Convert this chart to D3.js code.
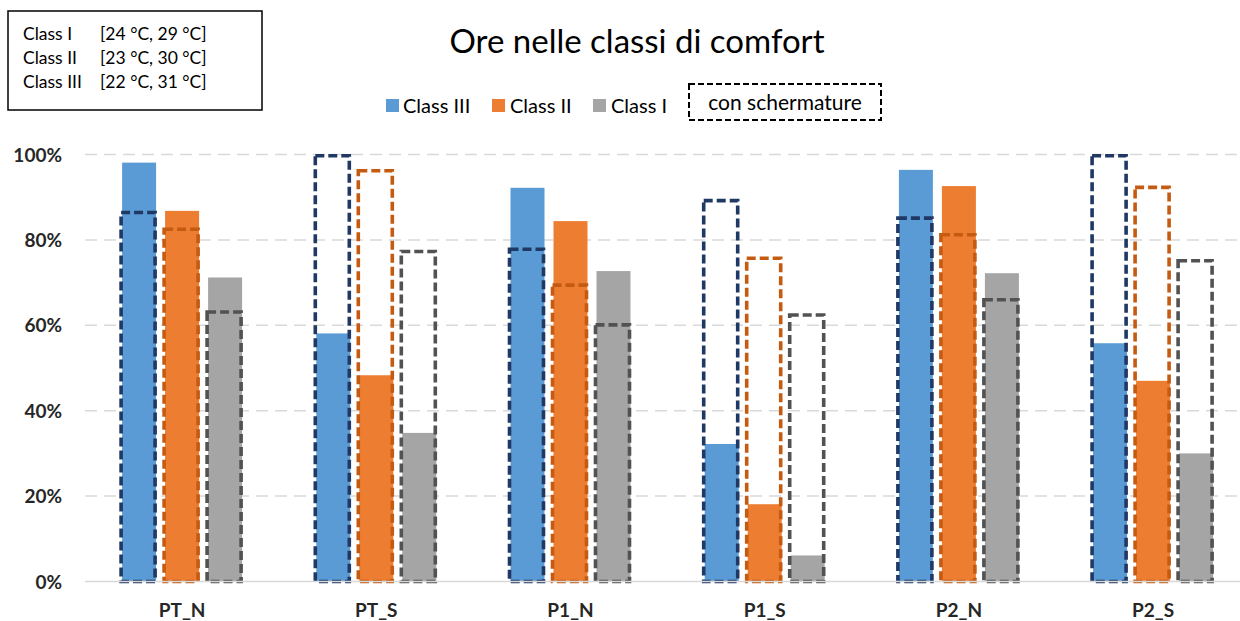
<!DOCTYPE html>
<html>
<head>
<meta charset="utf-8">
<script src="https://cdn.jsdelivr.net/npm/d3@7"></script>
<style>
  html, body { margin: 0; padding: 0; background: #ffffff; }
  svg { display: block; font-family: Lato, "Open Sans", sans-serif; }
</style>
</head>
<body>
<svg id="chart" width="1240" height="621"></svg>
<script>
// Hours inside each comfort class, per room (fraction of hours)
const categories = ["PT_N", "PT_S", "P1_N", "P1_S", "P2_N", "P2_S"];
const seriesNames = ["Class III", "Class II", "Class I"];

// without shading (solid bars)
const classIII = [0.981, 0.581, 0.922, 0.322, 0.964, 0.558];
const classII  = [0.868, 0.483, 0.844, 0.181, 0.926, 0.470];
const classI   = [0.712, 0.348, 0.727, 0.061, 0.722, 0.300];

// with shading (dashed outlines)
const classIIIShaded = [0.864, 0.997, 0.778, 0.892, 0.851, 0.997];
const classIIShaded  = [0.825, 0.962, 0.694, 0.757, 0.812, 0.923];
const classIShaded   = [0.631, 0.773, 0.601, 0.624, 0.660, 0.751];

const yTicks = [0, 0.2, 0.4, 0.6, 0.8, 1.0];

const classRanges = [
  ["Class I", "[24 °C, 29 °C]"],
  ["Class II", "[23 °C, 30 °C]"],
  ["Class III", "[22 °C, 31 °C]"]
];

const fillColors = { "Class III": "#5B9BD5", "Class II": "#ED7D31", "Class I": "#A5A5A5" };
const dashColors = { "Class III": "#1F3864", "Class II": "#C55A11", "Class I": "#525252" };

const solid = { "Class III": classIII, "Class II": classII, "Class I": classI };
const shaded = { "Class III": classIIIShaded, "Class II": classIIShaded, "Class I": classIShaded };

const svg = d3.select("#chart");

const plotLeft = 85, groupStep = 194.2;
const x = d3.scaleBand().domain(categories)
  .range([plotLeft, plotLeft + groupStep * categories.length]).padding(0);
const xs = d3.scaleBand().domain(seriesNames).range([-60, 60]).paddingInner(9 / 43).paddingOuter(0);
const y = d3.scaleLinear().domain([0, 1]).range([581.5, 154.5]);

// gridlines
const grid = svg.append("g");
grid.selectAll("line.grid").data(yTicks.filter(t => t > 0)).join("line")
  .attr("x1", plotLeft).attr("x2", 1240)
  .attr("y1", d => y(d)).attr("y2", d => y(d))
  .attr("stroke", "#D9D9D9").attr("stroke-width", 1.5)
  .attr("stroke-dasharray", "12,7");

// y tick labels
const yAxis = d3.axisLeft(y).tickValues(yTicks).tickFormat(d3.format(".0%")).tickSize(0).tickPadding(0);
const yg = svg.append("g").attr("transform", "translate(62,0)").call(yAxis);
yg.select(".domain").remove();
yg.selectAll("text")
  .attr("font-family", "Lato, 'Open Sans', sans-serif")
  .attr("font-size", 19).attr("font-weight", "bold").attr("fill", "#262626")
  .attr("text-anchor", "end").attr("dy", "0.35em").attr("x", 0);

// solid bars
const groups = svg.append("g").selectAll("g").data(categories).join("g")
  .attr("transform", d => `translate(${x(d) + x.bandwidth() / 2},0)`);

groups.selectAll("rect.solid")
  .data((c, i) => seriesNames.map(s => ({ s, v: solid[s][i] })))
  .join("rect").attr("class", "solid")
  .attr("x", d => xs(d.s)).attr("width", xs.bandwidth())
  .attr("y", d => y(d.v)).attr("height", d => y(0) - y(d.v))
  .attr("fill", d => fillColors[d.s]);

// baseline
svg.append("line")
  .attr("x1", plotLeft).attr("x2", 1240).attr("y1", y(0)).attr("y2", y(0))
  .attr("stroke", "#D9D9D9").attr("stroke-width", 1.5);

// dashed outlines (con schermature)
groups.selectAll("rect.shaded")
  .data((c, i) => seriesNames.map(s => ({ s, v: shaded[s][i] })))
  .join("rect").attr("class", "shaded")
  .attr("x", d => xs(d.s) - 1).attr("width", xs.bandwidth())
  .attr("y", d => y(d.v)).attr("height", d => y(0) - y(d.v))
  .attr("fill", "none").attr("stroke", d => dashColors[d.s])
  .attr("stroke-width", 3.6).attr("stroke-dasharray", "9,4");

// x axis labels
const xAxis = d3.axisBottom(x).tickSize(0).tickPadding(0);
const xg = svg.append("g").attr("transform", "translate(0,610)").call(xAxis);
xg.select(".domain").remove();
xg.selectAll("text")
  .attr("font-family", "Lato, 'Open Sans', sans-serif")
  .attr("font-size", 19).attr("font-weight", "bold").attr("fill", "#262626")
  .attr("y", 0).attr("dy", "0.35em");

// title
svg.append("text").attr("x", 637).attr("y", 53).attr("text-anchor", "middle")
  .attr("font-size", 33).attr("fill", "#000").text("Ore nelle classi di comfort");

// legend
const legendItems = [
  { s: "Class III", sx: 386, tx: 403 },
  { s: "Class II", sx: 492, tx: 510 },
  { s: "Class I", sx: 593, tx: 611 }
];
const lg = svg.append("g");
lg.selectAll("rect").data(legendItems).join("rect")
  .attr("x", d => d.sx).attr("y", 99).attr("width", 13).attr("height", 13)
  .attr("fill", d => fillColors[d.s]);
lg.selectAll("text").data(legendItems).join("text")
  .attr("x", d => d.tx).attr("y", 105.5).attr("dy", "0.35em")
  .attr("font-size", 20).attr("fill", "#000").text(d => d.s);
lg.append("rect").attr("x", 689).attr("y", 84).attr("width", 192).attr("height", 36)
  .attr("fill", "none").attr("stroke", "#000").attr("stroke-width", 2)
  .attr("stroke-dasharray", "6,3");
lg.append("text").attr("x", 785).attr("y", 103).attr("dy", "0.35em")
  .attr("text-anchor", "middle").attr("font-size", 21).attr("fill", "#000")
  .text("con schermature");

// comfort class temperature ranges box
const box = svg.append("g");
box.append("rect").attr("x", 8).attr("y", 11).attr("width", 254).attr("height", 99)
  .attr("fill", "#fff").attr("stroke", "#000").attr("stroke-width", 1.5);
box.selectAll("text.cls").data(classRanges).join("text").attr("class", "cls")
  .attr("x", 23).attr("y", (d, i) => 34 + i * 24).attr("dy", "0.35em")
  .attr("font-size", 17.5).attr("fill", "#000").text(d => d[0]);
box.selectAll("text.rng").data(classRanges).join("text").attr("class", "rng")
  .attr("x", 100).attr("y", (d, i) => 34 + i * 24).attr("dy", "0.35em")
  .attr("font-size", 17.5).attr("fill", "#000").text(d => d[1]);
</script>
</body>
</html>
